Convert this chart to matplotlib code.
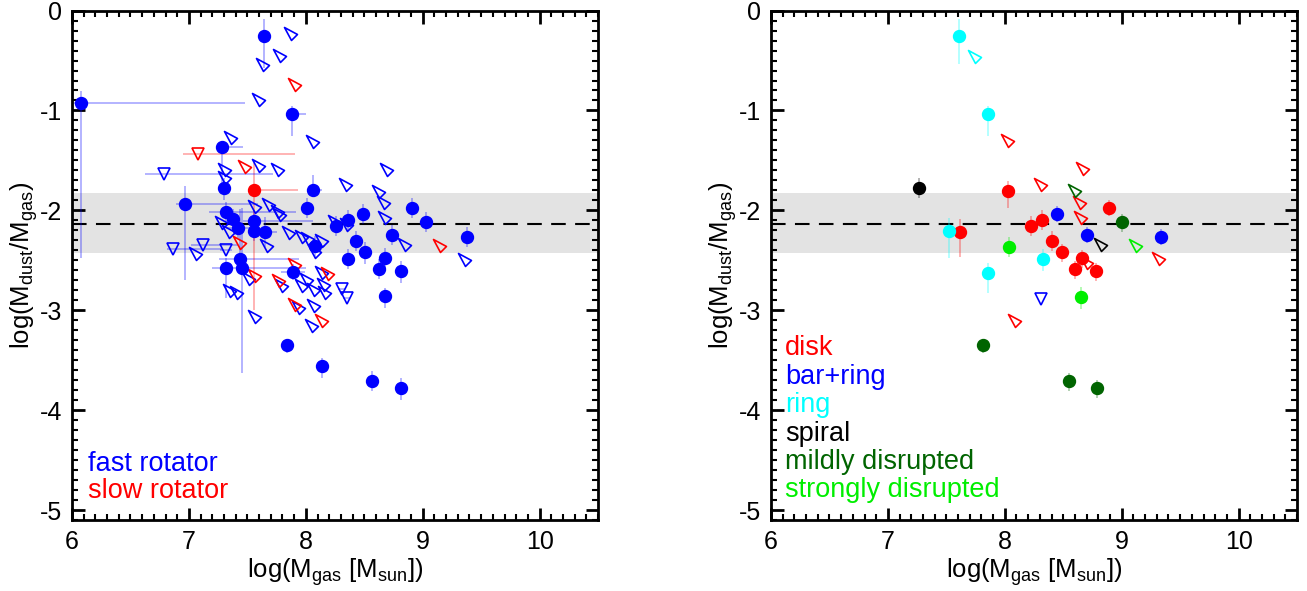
import numpy as np
import matplotlib
matplotlib.use('Agg')
import matplotlib.pyplot as plt
from matplotlib.path import Path

plt.rcParams['font.family'] = ['Liberation Sans', 'DejaVu Sans']
plt.rcParams['mathtext.fontset'] = 'custom'
plt.rcParams['mathtext.rm'] = 'Liberation Sans'
plt.rcParams['mathtext.it'] = 'Liberation Sans'
plt.rcParams['axes.unicode_minus'] = False

# ---------------- left panel: detections (filled circles) ----------------
fast_x = [6.08, 7.64, 7.88, 7.28, 7.30, 8.06, 6.97, 8.01, 7.32, 7.38, 7.42, 7.56, 7.56,
          7.65, 7.32, 7.44, 7.45, 7.89, 8.26, 8.36, 8.49, 8.91, 9.03, 8.08, 8.43, 8.51,
          8.74, 8.36, 8.68, 8.63, 8.81, 9.38, 8.68, 7.84, 8.14, 8.57, 8.81]
fast_y = [-0.93, -0.25, -1.04, -1.37, -1.78, -1.80, -1.94, -1.98, -2.02, -2.09, -2.18, -2.11, -2.21,
          -2.22, -2.58, -2.49, -2.58, -2.62, -2.16, -2.10, -2.04, -1.98, -2.12, -2.36, -2.31, -2.42,
          -2.25, -2.49, -2.48, -2.59, -2.61, -2.27, -2.86, -3.35, -3.56, -3.71, -3.78]
fast_xlo = [0.10, 0.05, 0.04, 0.05, 0.05, 0.05, 0.08, 0.05, 0.15, 0.05, 0.10, 0.10, 0.05,
            0.05, 0.05, 0.18, 0.25, 0.10, 0.05, 0.05, 0.05, 0.05, 0.05, 0.05, 0.05, 0.05,
            0.05, 0.05, 0.05, 0.05, 0.05, 0.05, 0.05, 0.05, 0.05, 0.05, 0.05]
fast_xhi = [1.40, 0.05, 0.12, 0.18, 0.05, 0.08, 0.62, 0.05, 0.60, 0.05, 0.10, 0.50, 0.05,
            0.10, 0.05, 0.50, 0.55, 0.10, 0.05, 0.05, 0.05, 0.05, 0.05, 0.08, 0.05, 0.05,
            0.05, 0.05, 0.05, 0.05, 0.05, 0.05, 0.05, 0.05, 0.05, 0.05, 0.05]
fast_ylo = [1.55, 0.32, 0.22, 0.40, 0.12, 0.07, 0.76, 0.10, 0.10, 0.10, 0.10, 0.10, 0.10,
            0.15, 0.30, 0.12, 1.05, 0.08, 0.10, 0.10, 0.10, 0.10, 0.10, 0.12, 0.10, 0.12,
            0.10, 0.10, 0.12, 0.10, 0.12, 0.10, 0.12, 0.08, 0.12, 0.10, 0.12]
fast_yhi = [0.12, 0.17, 0.08, 0.05, 0.10, 0.15, 0.18, 0.10, 0.10, 0.10, 0.10, 0.10, 0.10,
            0.15, 0.10, 0.50, 0.60, 0.08, 0.10, 0.10, 0.10, 0.10, 0.10, 0.10, 0.10, 0.10,
            0.10, 0.10, 0.10, 0.10, 0.10, 0.10, 0.08, 0.06, 0.08, 0.10, 0.10]

slow_x = [7.56]
slow_y = [-1.80]
slow_xlo = [0.05]
slow_xhi = [0.37]
slow_ylo = [1.20]
slow_yhi = [0.27]

# ---------------- left panel: limits (open triangles) ----------------
fast_lim_x = [7.855, 7.761, 7.615, 7.581, 7.342, 8.043, 7.291, 7.581, 7.744, 8.325, 7.291,
              7.547, 7.667, 7.744, 7.761, 7.265, 7.325, 7.650, 7.838, 7.949, 8.120, 8.060,
              8.231, 8.333, 7.043, 7.496, 7.333, 7.393, 7.778, 7.949, 7.991, 8.051, 8.120,
              8.137, 8.145, 7.923, 8.051, 7.547, 8.034, 8.675, 8.607, 8.650, 8.658, 8.829,
              9.342, 8.000]
fast_lim_y = [-0.216, -0.437, -0.528, -0.879, -1.251, -1.291, -1.573, -1.533, -1.573, -1.724, -1.653,
              -1.945, -1.925, -1.995, -2.025, -2.106, -2.196, -2.337, -2.206, -2.246, -2.286, -2.397,
              -2.096, -2.126, -2.417, -2.668, -2.789, -2.809, -2.739, -2.739, -2.678, -2.779, -2.608,
              -2.729, -2.809, -2.960, -2.940, -3.050, -3.141, -1.573, -1.794, -1.905, -2.055, -2.327,
              -2.477, -2.270]
fast_dlim_x = [6.786, 6.863, 7.120, 7.316, 8.308, 8.350]
fast_dlim_y = [-1.633, -2.387, -2.347, -2.397, -2.789, -2.879]
fast_dlim_xlo = [0.16, 0.05, 0.10, 0.05, 0.03, 0.03]
fast_dlim_xhi = [0.93, 0.43, 0.30, 0.05, 0.03, 0.03]

slow_lim_x = [7.889, 7.462, 7.419, 7.547, 7.889, 7.752, 8.171, 7.889, 8.120, 9.128]
slow_lim_y = [-0.729, -1.543, -2.307, -2.638, -2.528, -2.688, -2.618, -2.930, -3.090, -2.337]
slow_dlim_x = [7.077]
slow_dlim_y = [-1.432]
slow_dlim_xlo = [0.13]
slow_dlim_xhi = [0.83]

# ---------------- right panel: morphology classes ----------------
classes = ['disk', 'bar+ring', 'ring', 'spiral', 'mildly disrupted', 'strongly disrupted']
class_colors = ['#ff0000', '#0000ff', '#00ffff', '#000000', '#006400', '#00ee00']

det_x = {
    'disk': [8.03, 7.62, 8.89, 8.22, 8.32, 8.40, 8.49, 8.66, 8.60, 8.78],
    'bar+ring': [8.45, 8.70, 9.34],
    'ring': [7.61, 7.86, 7.52, 8.33, 7.86],
    'spiral': [7.27],
    'mildly disrupted': [9.00, 7.81, 8.55, 8.79],
    'strongly disrupted': [8.04, 8.65],
}
det_y = {
    'disk': [-1.81, -2.22, -1.98, -2.16, -2.10, -2.31, -2.42, -2.48, -2.59, -2.61],
    'bar+ring': [-2.04, -2.25, -2.27],
    'ring': [-0.25, -1.04, -2.21, -2.49, -2.63],
    'spiral': [-1.78],
    'mildly disrupted': [-2.12, -3.35, -3.71, -3.78],
    'strongly disrupted': [-2.37, -2.87],
}
det_ylo = {
    'disk': [0.17, 0.25, 0.08, 0.10, 0.10, 0.10, 0.10, 0.10, 0.10, 0.10],
    'bar+ring': [0.08, 0.08, 0.08],
    'ring': [0.28, 0.22, 0.27, 0.12, 0.20],
    'spiral': [0.10],
    'mildly disrupted': [0.10, 0.08, 0.10, 0.10],
    'strongly disrupted': [0.10, 0.12],
}
det_yhi = {
    'disk': [0.10, 0.13, 0.08, 0.10, 0.10, 0.10, 0.08, 0.08, 0.08, 0.08],
    'bar+ring': [0.08, 0.08, 0.08],
    'ring': [0.17, 0.08, 0.13, 0.10, 0.10],
    'spiral': [0.10],
    'mildly disrupted': [0.08, 0.06, 0.08, 0.08],
    'strongly disrupted': [0.10, 0.10],
}
lim_x = {
    'disk': [8.009, 8.291, 8.650, 8.624, 8.632, 9.299, 8.684, 8.068],
    'ring': [7.726],
    'spiral': [8.803],
    'mildly disrupted': [8.581],
    'strongly disrupted': [9.103],
}
lim_y = {
    'disk': [-1.281, -1.724, -1.563, -1.905, -2.055, -2.467, -2.508, -3.090],
    'ring': [-0.447],
    'spiral': [-2.327],
    'mildly disrupted': [-1.784],
    'strongly disrupted': [-2.337],
}
dlim_x = {'bar+ring': [8.308]}
dlim_y = {'bar+ring': [-2.889]}

band_lo, band_hi, ratio_mean = -2.43, -1.83, -2.14

# marker: narrow triangle pointing up-left (upper limit in gas, lower limit in ratio)
d = np.array([-1.0, 1.0]) / np.sqrt(2)
p = np.array([1.0, 1.0]) / np.sqrt(2)
apex = 0.5 * d
b1 = -0.5 * d + 0.3 * p
b2 = -0.5 * d - 0.3 * p
ulim = Path([apex, b1, b2, apex],
            [Path.MOVETO, Path.LINETO, Path.LINETO, Path.CLOSEPOLY])

MS_DOT = 8.6
MS_TRI = 11.5
MS_DOWN = 9


def light(c, a=0.35):
    r, g, b = matplotlib.colors.to_rgb(c)
    return (r, g, b, a)


def style(ax):
    ax.axhspan(band_lo, band_hi, color='#e3e3e3', zorder=0, lw=0)
    ax.axhline(ratio_mean, color='black', lw=1.5, dashes=(7, 4.5), zorder=1)
    ax.set_xlim(6, 10.5)
    ax.set_ylim(-5.1, 0)
    ax.set_xticks([6, 7, 8, 9, 10])
    ax.set_yticks([0, -1, -2, -3, -4, -5])
    ax.set_xticks(np.arange(6, 10.51, 0.1), minor=True)
    ax.set_yticks(np.arange(-5.1, 0.01, 0.1), minor=True)
    ax.tick_params(which='both', direction='in', top=True, right=True, labelsize=18)
    ax.tick_params(which='major', length=9, width=2, pad=7)
    ax.tick_params(which='minor', length=4.5, width=1.5)
    for s in ax.spines.values():
        s.set_linewidth(2)
    ax.set_xlabel(r'log(M$_{\rm gas}$ [M$_{\rm sun}$])', fontsize=18.5, labelpad=2)
    ax.set_ylabel(r'log(M$_{\rm dust}$/M$_{\rm gas}$)', fontsize=18.5, labelpad=0)


fig = plt.figure(figsize=(13.07, 5.91), dpi=100)
ax1 = fig.add_axes([0.0551, 0.1201, 0.4025, 0.862])
ax2 = fig.add_axes([0.5899, 0.1201, 0.4025, 0.862])

# ---- left panel ----
style(ax1)
for x, y, xlo, xhi, ylo, yhi, c in [
        (fast_x, fast_y, fast_xlo, fast_xhi, fast_ylo, fast_yhi, 'blue'),
        (slow_x, slow_y, slow_xlo, slow_xhi, slow_ylo, slow_yhi, 'red')]:
    ax1.errorbar(x, y, xerr=[xlo, xhi], yerr=[ylo, yhi], fmt='none',
                 ecolor=light(c), elinewidth=1.2, capsize=0, zorder=2)
for x, y, xlo, xhi, c in [
        (fast_dlim_x, fast_dlim_y, fast_dlim_xlo, fast_dlim_xhi, 'blue'),
        (slow_dlim_x, slow_dlim_y, slow_dlim_xlo, slow_dlim_xhi, 'red')]:
    ax1.errorbar(x, y, xerr=[xlo, xhi], fmt='none',
                 ecolor=light(c), elinewidth=1.2, capsize=0, zorder=2)
    ax1.plot(x, y, ls='none', marker='v', ms=MS_DOWN, mfc='none', mec=c, mew=1.2, zorder=3)
ax1.plot(fast_lim_x, fast_lim_y, ls='none', marker=ulim, ms=MS_TRI,
         mfc='none', mec='blue', mew=1.2, zorder=3)
ax1.plot(slow_lim_x, slow_lim_y, ls='none', marker=ulim, ms=MS_TRI,
         mfc='none', mec='red', mew=1.2, zorder=3)
ax1.plot(fast_x, fast_y, ls='none', marker='o', ms=MS_DOT, color='blue', mec='blue', zorder=4)
ax1.plot(slow_x, slow_y, ls='none', marker='o', ms=MS_DOT, color='red', mec='red', zorder=4)
ax1.text(0.03, 0.11, 'fast rotator', color='blue', fontsize=19.5,
         transform=ax1.transAxes, va='center')
ax1.text(0.03, 0.057, 'slow rotator', color='red', fontsize=19.5,
         transform=ax1.transAxes, va='center')

# ---- right panel ----
style(ax2)
for name, c in zip(classes, class_colors):
    if name in det_x:
        ax2.errorbar(det_x[name], det_y[name], yerr=[det_ylo[name], det_yhi[name]],
                     fmt='none', ecolor=light(c), elinewidth=1.2, capsize=0, zorder=2)
        ax2.plot(det_x[name], det_y[name], ls='none', marker='o', ms=MS_DOT,
                 color=c, mec=c, zorder=4)
    if name in lim_x:
        ax2.plot(lim_x[name], lim_y[name], ls='none', marker=ulim, ms=MS_TRI,
                 mfc='none', mec=c, mew=1.2, zorder=3)
    if name in dlim_x:
        ax2.plot(dlim_x[name], dlim_y[name], ls='none', marker='v', ms=MS_DOWN,
                 mfc='none', mec=c, mew=1.2, zorder=3)

label_y = [0.338, 0.281, 0.226, 0.169, 0.114, 0.059]
for name, c, ty in zip(classes, class_colors, label_y):
    ax2.text(0.027, ty, name, color=c, fontsize=19.5, transform=ax2.transAxes, va='center')

fig.savefig('out.png', dpi=100)
